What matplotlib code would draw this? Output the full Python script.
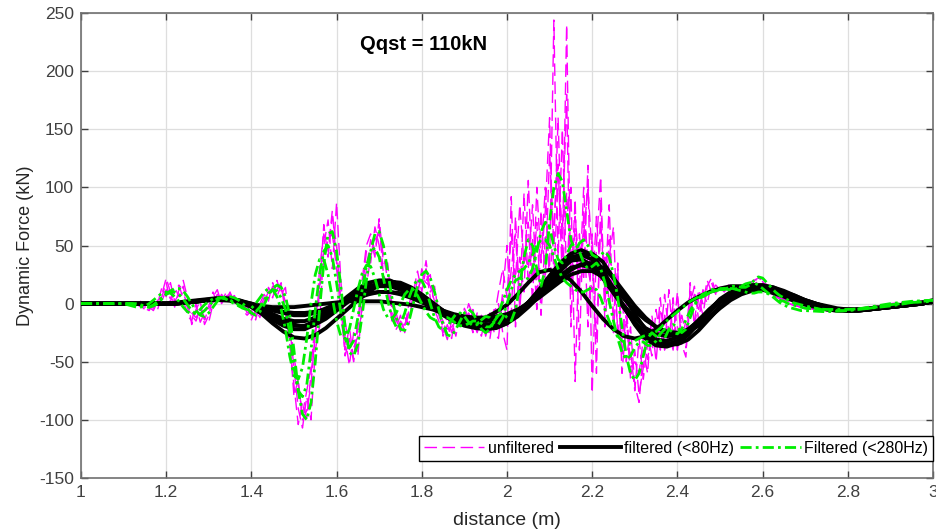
import numpy as np
import matplotlib
matplotlib.use("Agg")
import matplotlib.pyplot as plt

plt.rcParams['font.family'] = ['Liberation Sans', 'DejaVu Sans']
plt.rcParams['axes.unicode_minus'] = False

# ---- data ----
# filtered (<80Hz) curves, sampled every 0.025 m from 1.0 to 3.0
x_slow = np.linspace(1.0, 3.0, 81)

filt80_a = [0, 0, 0, 0, 0, 0, 0, 0, 0, 0.5,
            1, 2, 3, 4, 3.5, 2, -1, -5, -9, -13,
            -15, -15, -12, -7, -1, 4, 9, 13, 15, 15,
            12, 8, 3, -2, -7, -11, -15, -17, -18, -17,
            -13, -7, 1, 10, 20, 30, 37, 38, 33, 22,
            9, -4, -16, -26, -31, -32, -29, -23, -14, -5,
            3, 9, 12, 13, 13, 11, 8, 4, 1, -2,
            -4, -5, -5, -5, -4, -3, -2, -1, 0, 1,
            2]
filt80_b = [0, 0, 0, 0, 0, 0, 0, 0, 0, 1,
            2, 3, 4, 5, 4.5, 2.5, -2, -8, -14, -19,
            -22, -22, -18, -10, -2, 6, 13, 18, 20, 20,
            16, 10, 4, -3, -10, -15, -19, -21, -22, -21,
            -17, -9, 1, 12, 24, 35, 43, 46, 42, 29,
            13, -3, -18, -30, -36, -37, -34, -27, -17, -6,
            4, 10, 14, 16, 16, 14, 10, 5, 1, -2,
            -5, -6, -6, -6, -5, -4, -3, -2, -1, 1,
            3]
filt80_c = [0, 0, 0, 0, 0, 0, 0, 0, 0, 0,
            1, 2, 3, 3.5, 3, 2, 0, -2, -5, -7,
            -8, -8, -7, -5, -2, 2, 5, 8, 10, 10,
            9, 6, 2, -2, -6, -9, -11, -12, -12, -11,
            -9, -5, 0, 6, 14, 22, 29, 34, 35, 31,
            22, 10, -2, -12, -20, -25, -26, -24, -19, -12,
            -4, 3, 8, 11, 12, 11, 9, 6, 3, 0,
            -2, -4, -5, -5, -5, -4, -3, -2, -1, 0,
            2]
filt80_d = [0, 0, 0, 0, 0, 0, 0, 0, 0, 0.5,
            1, 2, 3, 3.5, 3, 1, -3, -9, -17, -24,
            -29, -30, -27, -21, -13, -5, 3, 10, 16, 19,
            18, 14, 8, 1, -6, -12, -15, -15, -12, -7,
            -1, 8, 18, 27, 29, 27, 20, 10, -2, -13,
            -22, -28, -30, -28, -22, -14, -6, 1, 6, 10,
            13, 15, 15, 14, 12, 9, 6, 2, -1, -3,
            -5, -6, -6, -6, -5, -4, -3, -2, -1, 0,
            2]
filt80_e = [0, 0, 0, 0, 0, 0, 0, 0, 0, 0,
            1, 2, 3, 3, 2.5, 1, -1, -2, -3, -3,
            -3, -2, -1, 0, 1, 2, 2, 2, 2, 1,
            0, -1, -3, -5, -8, -10, -12, -13, -13, -12,
            -10, -6, -1, 5, 12, 19, 25, 28, 28, 23,
            14, 4, -6, -14, -20, -24, -25, -23, -18, -11,
            -3, 4, 9, 12, 13, 12, 10, 7, 3, 0,
            -3, -5, -6, -6, -5, -4, -3, -2, -1, 0,
            2]
filt80_f = [0, 0, 0, 0, 0, 0, 0, 0, 0, 0.5,
            1.5, 2.5, 3.5, 4.5, 4, 2, -1.5, -6, -11, -16,
            -19, -19, -15, -9, -2, 4, 10, 15, 17, 17,
            14, 9, 3, -2, -8, -13, -17, -19, -20, -19,
            -15, -8, 1, 11, 22, 32, 40, 42, 38, 26,
            11, -3, -17, -28, -34, -35, -32, -25, -15, -5,
            3, 9, 13, 15, 15, 13, 9, 5, 1, -2,
            -4, -5, -6, -5, -5, -4, -3, -2, -1, 0,
            2]
filt80_g = [0, 0, 0, 0, 0, 0, 0, 0, 0, 0,
            1, 2, 3, 3.5, 3, 1.5, -1, -3, -6, -8,
            -10, -10, -8, -4, 0, 3, 6, 9, 10, 10,
            8, 5, 1, -3, -7, -10, -13, -14, -15, -14,
            -11, -6, 1, 8, 16, 24, 31, 33, 31, 22,
            10, -2, -12, -21, -26, -28, -27, -22, -15, -7,
            1, 7, 11, 12, 12, 11, 8, 5, 2, -1,
            -3, -5, -5, -5, -5, -4, -3, -2, -1, 0,
            2]
filt80_h = [0, 0, 0, 0, 0, 0, 0, 0, 0, 0,
            1, 2, 3, 4, 4, 2.5, 0, -4, -10, -15,
            -18, -20, -18, -13, -6, 1, 8, 14, 17, 19,
            17, 12, 6, 0, -6, -12, -16, -19, -20, -20,
            -17, -11, -3, 6, 17, 28, 37, 42, 43, 36,
            22, 6, -9, -22, -31, -35, -35, -31, -23, -13,
            -3, 5, 11, 14, 15, 14, 11, 7, 3, 0,
            -3, -5, -6, -6, -5, -4, -3, -2, -1, 0,
            2]

# unfiltered and filtered (<280Hz) curves: 1.0, 1.05, then every 0.01 m
# from 1.10 to 2.70, then every 0.05 m up to 3.0
x_fast = np.concatenate([[1.0, 1.05],
                         np.linspace(1.10, 2.70, 161),
                         [2.75, 2.80, 2.85, 2.90, 2.95, 3.00]])

unfilt_a = [0, 0,
            0, 0, 1, -1, 2, -4, -6, 0, -5, 8,
            22, 10, -3, 12, 20, 5, -18, -5, 2, -18,
            -10, 6, 12, 0, 6, 9, 2, 4, -2, -4,
            -14, -5, -12, 2, 10, 5, 20, 8, 14, -20,
            -55, -90, -107, -80, -100, -40, -20, 50, 72, 30,
            87, 20, -30, -53, -25, -45, 0, 30, 55, 40,
            73, 35, 35, -5, -20, -10, -25, -5, 5, 20,
            15, 37, 10, 15, -10, -20, -31, -15, -28, -8,
            -15, 0, -10, -20, -10, -28, -15, -20, 0, -25,
            -40, 92, -20, 40, 10, 106, 20, 70, -10, 60,
            30, 244, 40, 150, 20, 100, -67, 60, 20, 119,
            -77, 50, 109, -20, 40, 66, -30, 10, -50, -20,
            -70, -85, -40, -60, -10, -35, 5, -40, 12, -30,
            10, -35, -46, 18, -20, 5, -10, 15, 22, 10,
            15, 12, 16, 14, 15, 13, 15, 17, 20, 22,
            20, 16, 12, 9, 6, 4, 2, 0, -2, -3,
            -4,
            -6, -5, -3, 0, 2, 3]
unfilt_b = [0, 0,
            0, 1, -1, 0, -3, -1, -5, 2, 0, 14,
            6, 18, 2, 8, 15, -4, -10, -15, -4, -12,
            -16, 0, 8, 4, 2, 8, 6, -2, 0, -8,
            -6, -12, 0, -4, 14, 8, 12, 18, -4, -35,
            -70, -104, -85, -98, -60, -30, 10, 68, 40, 75,
            50, 0, -45, -30, -50, -20, 10, 45, 35, 66,
            50, 20, 10, -15, -8, -24, -12, -18, 10, 5,
            30, 20, 25, -5, 0, -28, -18, -30, -10, -20,
            -4, -12, -25, -8, -18, -12, -30, -5, -22, 10,
            50, -10, 75, 0, 95, 15, 55, -5, 80, 20,
            130, 50, 160, 30, 240, 10, 90, -40, 80, -20,
            60, -60, 90, 0, 55, -10, 30, -45, -10, -65,
            -40, -78, -55, -25, -45, -5, -30, 8, -25, -40,
            5, -20, -38, 0, 15, -15, 10, 0, 18, 8,
            14, 10, 15, 12, 14, 12, 14, 15, 17, 19,
            18, 14, 10, 7, 5, 3, 1, -1, -2, -3,
            -4,
            -5, -5, -4, -1, 1, 2]
unfilt_c = [0, 0,
            0, 0, 0, 1, -2, -3, -2, -4, 3, 2,
            12, 4, 14, 6, 10, -2, -8, -12, -6, -14,
            -4, 2, 6, 2, 9, 4, 7, 0, -4, -2,
            -10, -8, -4, 5, 4, 15, 10, 12, 2, -15,
            -45, -70, -95, -75, -55, -15, 15, 35, 55, 60,
            30, 5, -15, -40, -38, -28, -5, 15, 40, 55,
            60, 42, 20, 0, -15, -20, -18, -8, 0, 12,
            22, 18, 15, 2, -8, -15, -22, -20, -15, -12,
            -18, -8, -15, -25, -12, -20, -8, -25, -30, 5,
            -15, 30, 60, -5, 45, 30, 85, 10, 40, 100,
            15, 70, 120, 20, 95, 40, 60, 10, 100, 30,
            10, 75, 20, 40, 0, 20, -20, -30, 0, -55,
            -50, -60, -30, -48, -25, -20, -40, -10, -30, 0,
            -20, -30, -15, -5, 8, -5, 12, 5, 12, 9,
            13, 11, 13, 12, 13, 12, 13, 14, 15, 16,
            15, 12, 9, 6, 4, 2, 0, -1, -2, -3,
            -4,
            -5, -5, -4, -2, 1, 2]
unfilt_d = [0, 0,
            0, 0, -1, 1, -2, -5, -3, -6, 2, 6,
            18, 2, 10, 16, 4, -10, -15, 0, -16, -8,
            -2, 10, 0, 8, 3, 10, 0, 2, -6, -10,
            -6, -14, 0, 8, 2, 18, 6, 16, -8, -30,
            -80, -65, -100, -92, -70, -25, 30, 60, 45, 80,
            35, -10, -40, -20, -48, -15, 20, 50, 60, 45,
            68, 25, 15, -10, -22, -15, -20, 0, 10, 28,
            10, 30, 5, -5, -15, -25, -10, -25, -12, -22,
            -8, -20, -5, -18, -28, -10, -25, -12, 10, 30,
            5, 60, 20, 85, 35, 70, 0, 100, 35, 80,
            160, 20, 110, 60, 180, -20, 75, 30, 60, 100,
            40, -30, 70, 10, 85, -25, 35, -60, -15, -40,
            -75, -30, -65, -35, -15, -50, -5, -20, -35, 5,
            -40, -10, -25, 10, -15, 12, 0, 20, 10, 16,
            12, 14, 13, 15, 14, 14, 16, 18, 20, 21,
            19, 15, 11, 8, 5, 3, 1, -1, -2, -3,
            -4,
            -5, -5, -4, -1, 1, 2]

filt280_a = [0, 0,
             0, 0, 0, 0, -1, -2, -3, -2, 0, 4,
             8, 11, 13, 13, 11, 6, 0, -6, -10, -11,
             -8, -3, 2, 5, 6, 6, 5, 3, 0, -4,
             -8, -10, -7, -1, 7, 13, 16, 14, 6, -10,
             -40, -75, -95, -100, -85, -50, -5, 35, 60, 62,
             45, 15, -20, -42, -45, -35, -10, 20, 45, 60,
             62, 50, 28, 5, -12, -22, -23, -15, 0, 15,
             25, 28, 22, 10, -5, -18, -27, -28, -22, -15,
             -8, -5, -8, -15, -22, -25, -22, -15, -10, -8,
             -12, -15, -5, 15, 40, 55, 50, 30, 15, 30,
             70, 100, 112, 105, 80, 55, 45, 52, 55, 50,
             42, 40, 42, 45, 40, 25, 5, -20, -45, -60,
             -66, -60, -45, -30, -25, -28, -32, -30, -22, -18,
             -20, -25, -22, -12, -2, 5, 8, 10, 12, 13,
             12, 12, 14, 15, 15, 14, 14, 16, 20, 23,
             22, 18, 14, 10, 7, 5, 3, 1, 0, -1,
             -2,
             -6, -6, -3, 0, 2, 3]
filt280_b = [0, 0,
             0, 0, 0, -1, -2, -3, -3, -1, 2, 5,
             8, 10, 10, 8, 4, -1, -6, -9, -9, -6,
             -2, 2, 4, 5, 4, 3, 1, -1, -3, -6,
             -8, -7, -3, 3, 9, 12, 11, 5, -5, -25,
             -55, -75, -80, -70, -40, -5, 25, 45, 50, 40,
             18, -8, -30, -38, -32, -12, 12, 32, 45, 48,
             40, 22, 3, -12, -20, -18, -8, 5, 15, 21,
             20, 12, 0, -12, -20, -23, -20, -14, -9, -8,
             -11, -16, -19, -18, -14, -11, -12, -16, -18, -12,
             0, 12, 20, 22, 20, 22, 30, 45, 62, 70,
             65, 50, 38, 35, 42, 50, 52, 45, 35, 30,
             32, 35, 30, 18, 2, -15, -30, -42, -48, -45,
             -38, -33, -33, -36, -36, -32, -26, -22, -22, -25,
             -26, -22, -14, -6, 0, 4, 6, 8, 10, 12,
             13, 13, 12, 12, 13, 15, 17, 18, 18, 16,
             13, 10, 7, 5, 3, 2, 0, -1, -2, -3,
             -4,
             -5, -5, -4, -1, 1, 2]
filt280_c = [0, 0,
             0, -1, -2, -3, -3, -2, 0, 3, 6, 9,
             10, 9, 6, 2, -3, -7, -9, -8, -5, -1,
             2, 4, 5, 5, 4, 2, 0, -2, -4, -5,
             -4, 0, 5, 10, 13, 12, 6, -5, -22, -45,
             -62, -65, -55, -30, 0, 25, 38, 38, 25, 5,
             -15, -28, -30, -22, -5, 12, 26, 33, 32, 22,
             8, -5, -12, -13, -8, 0, 8, 12, 12, 7,
             0, -7, -12, -14, -13, -12, -12, -14, -17, -19,
             -19, -17, -15, -15, -17, -20, -20, -16, -8, 2,
             12, 20, 25, 28, 30, 35, 42, 50, 55, 55,
             50, 40, 30, 22, 18, 15, 12, 10, 10, 12,
             14, 12, 5, -5, -15, -22, -28, -32, -34, -34,
             -32, -30, -28, -27, -26, -24, -21, -17, -13, -10,
             -7, -4, -1, 2, 4, 6, 8, 9, 10, 11,
             12, 13, 13, 13, 12, 11, 10, 9, 9, 10,
             10, 9, 7, 4, 1, -1, -3, -4, -5, -6,
             -6,
             -7, -6, -4, -2, 1, 3]

unfiltered = [unfilt_a, unfilt_b, unfilt_c, unfilt_d]
filtered_80 = [filt80_a, filt80_b, filt80_c, filt80_d, filt80_e, filt80_f,
               filt80_g, filt80_h]
filtered_280 = [filt280_a, filt280_b, filt280_c]

x_ticks = [1.0, 1.2, 1.4, 1.6, 1.8, 2.0, 2.2, 2.4, 2.6, 2.8, 3.0]
x_tick_labels = ['1', '1.2', '1.4', '1.6', '1.8', '2', '2.2', '2.4', '2.6', '2.8', '3']
y_ticks = [-150, -100, -50, 0, 50, 100, 150, 200, 250]

fig = plt.figure(figsize=(9.36, 5.31), dpi=100)
ax = fig.add_axes([0.0865, 0.0998, 0.9103, 0.8757])

for i, y in enumerate(unfiltered):
    ax.plot(x_fast, y, color='#ff00ff', lw=1.0, dashes=(9, 4),
            label='unfiltered' if i == 0 else None, zorder=2)
for i, y in enumerate(filtered_80):
    ax.plot(x_slow, y, color='black', lw=2.8,
            label='filtered (<80Hz)' if i == 0 else None, zorder=3)
for i, y in enumerate(filtered_280):
    ax.plot(x_fast, y, color='#00ee00', lw=2.0, dashes=(4, 1.5, 1, 1.5),
            label='Filtered (<280Hz)' if i == 0 else None, zorder=4)

ax.set_xlim(1, 3)
ax.set_ylim(-150, 250)
ax.set_xticks(x_ticks)
ax.set_xticklabels(x_tick_labels)
ax.set_yticks(y_ticks)
ax.grid(True, color='#dedede', lw=0.9)
ax.set_axisbelow(True)
ax.tick_params(direction='in', top=True, right=True, length=5, width=1,
               colors='#404040', labelsize=12.5, pad=5)
for sp in ax.spines.values():
    sp.set_color('#707070')
    sp.set_linewidth(1.2)

ax.set_xlabel('distance (m)', fontsize=14, color='#262626', labelpad=9)
ax.set_ylabel('Dynamic Force (kN)', fontsize=13, color='#262626', labelpad=4)

ax.text(1.655, 223, 'Qqst = 110kN', fontsize=14.5, fontweight='bold',
        ha='left', va='center', color='black')

leg = ax.legend(loc='lower right', bbox_to_anchor=(1.0, 0.037), ncol=3,
                fontsize=11.5, handlelength=3.8, handletextpad=0.2,
                columnspacing=0.4, borderpad=0.3, borderaxespad=0,
                fancybox=False, framealpha=1, edgecolor='black')
leg.get_frame().set_linewidth(1.0)

fig.savefig('out.png', dpi=100)
